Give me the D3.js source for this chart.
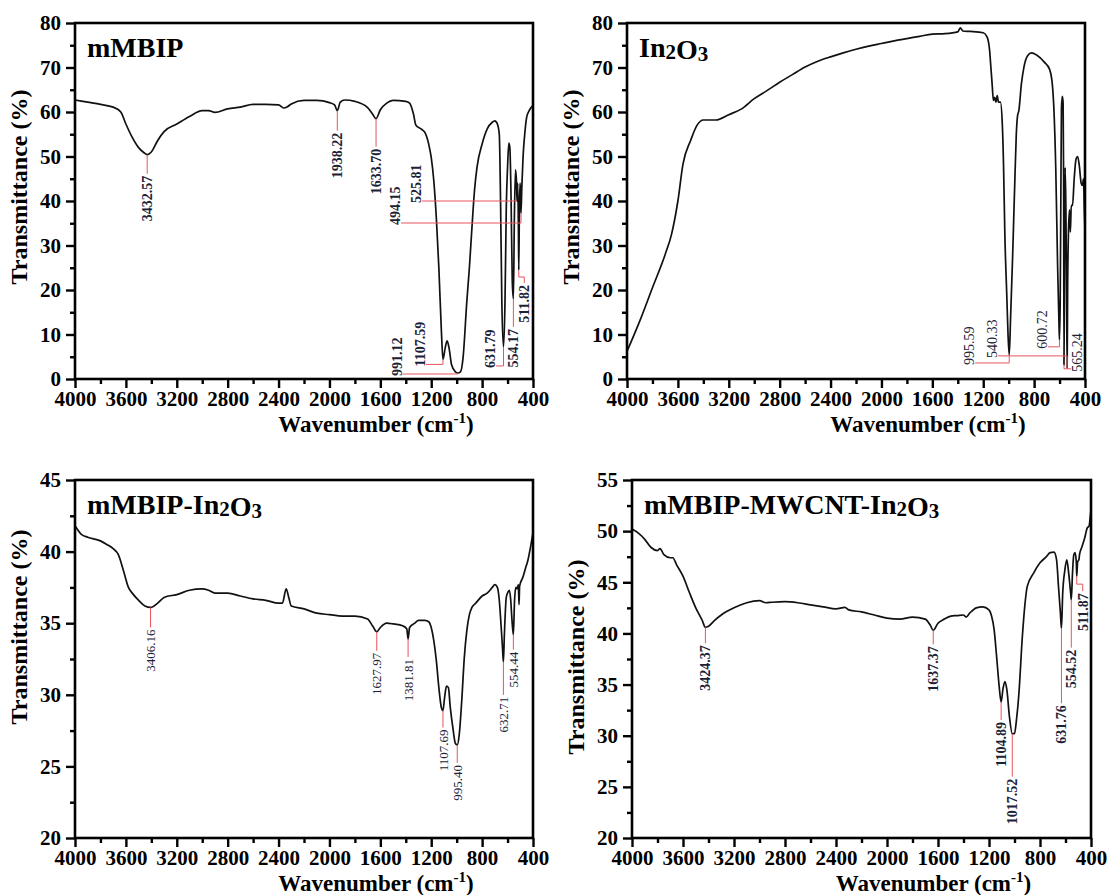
<!DOCTYPE html>
<html>
<head>
<meta charset="utf-8">
<script src="https://cdn.jsdelivr.net/npm/d3@7"></script>
<style>
  body { margin: 0; background: #fff; }
  svg { font-family: "Liberation Serif", "Times New Roman", serif; }
</style>
</head>
<body>
<svg width="1111" height="895"></svg>
<script>
const svg = d3.select('svg');

// x ticks shared by all four spectra
const xTicks = [4000, 3600, 3200, 2800, 2400, 2000, 1600, 1200, 800, 400];
const xMinor = [3800, 3400, 3000, 2600, 2200, 1800, 1400, 1000, 600];

// spectra: [wavenumber, transmittance %]
const mmbipSpectrum = [
  [4000,62.7],[3900,62.2],[3800,61.7],[3700,61.1],[3640,60],[3600,57.3],[3550,54.3],[3500,52],
  [3460,50.9],[3432.57,50.4],[3400,51],[3350,53.6],[3300,55.6],[3200,57.3],[3100,59],[3000,60.3],
  [2950,60.3],[2900,59.9],[2800,60.7],[2700,61.1],[2600,61.7],[2500,61.7],[2400,61.6],[2360,60.9],
  [2330,61.2],[2300,61.8],[2200,62.6],[2100,62.6],[2000,62.1],[1960,61.6],[1938.22,60.3],[1915,62.2],
  [1880,62.7],[1800,62.4],[1700,61],[1660,59.5],[1633.70,58.5],[1600,60.5],[1550,62],[1500,62.6],
  [1400,62.4],[1370,62],[1340,59.6],[1320,57],[1280,56.2],[1250,55.4],[1220,52.8],[1200,49.8],
  [1180,44.6],[1160,36.3],[1140,25],[1120,10.7],[1107.59,4.4],[1090,7],[1075,8.6],[1060,7],
  [1040,3.2],[1010,1.6],[991.12,1.35],[970,1.6],[950,4.7],[920,17.5],[900,25],[880,34],
  [860,42.3],[840,47.6],[800,52.8],[760,56.2],[720,57.7],[700,58],[680,57.3],[665,55],
  [655,40],[645,17.5],[631.79,7.2],[620,17.5],[610,38.5],[600,47.6],[590,53],[582,52],
  [572,40],[563,22],[554.17,18],[547,35],[538,47],[531,45],[525.81,40],[520,44],
  [515,35],[511.82,24.5],[507,38],[502,44],[498,42],[494.15,37.3],[488,43],[478,50],
  [465,55],[450,58.8],[430,60.3],[400,61.5]
];

const in2o3Spectrum = [
  [4000,6.2],[3900,13],[3800,20.5],[3700,28],[3650,32.5],[3600,40],[3560,48.3],[3500,53.6],
  [3450,57],[3400,58.2],[3300,58.2],[3200,59.4],[3100,60.7],[3000,63],[2900,64.8],[2800,66.7],
  [2700,68.4],[2600,70.1],[2500,71.4],[2400,72.4],[2300,73.3],[2200,74.1],[2100,74.8],[2000,75.4],
  [1900,76],[1800,76.5],[1700,77],[1600,77.5],[1500,77.6],[1400,78],[1380,78.9],[1360,78.2],
  [1300,78.1],[1200,77.8],[1170,76.9],[1150,73.9],[1140,70.1],[1130,66.3],[1120,62.6],[1110,63.3],
  [1100,62.2],[1090,63.7],[1080,62.2],[1065,62.2],[1050,57.3],[1040,47.6],[1030,32.5],[1015,19],
  [1005,10],[995.59,5.4],[985,13.7],[970,26.5],[960,36.3],[950,46],[940,55],[930,59.2],
  [920,60.3],[900,66.3],[880,70.1],[850,72.7],[820,73.3],[780,72.8],[720,71.2],[680,69.7],
  [660,67.1],[645,61],[630,47.6],[615,25],[605,13],[600.72,8.8],[595,17.5],[590,40],
  [585,61],[578,63.5],[572,62],[568,45],[565.24,3.2],[560,30],[556,47.5],[550,38],
  [545,20],[540.33,2.5],[536,22],[530,33],[522,38],[515,33],[508,39],[498,39],
  [485,45],[470,49.5],[458,50],[445,48],[430,44],[420,43.5],[412,45],[405,38],[400,33]
];

const mmbipIn2o3Spectrum = [
  [4000,41.8],[3950,41.2],[3900,41.0],[3800,40.75],[3750,40.5],[3700,40.2],[3660,39.8],[3620,38.7],
  [3580,37.5],[3550,37.1],[3500,36.6],[3450,36.2],[3406.16,36.1],[3350,36.4],[3300,36.8],[3200,37.0],
  [3100,37.3],[3000,37.4],[2950,37.3],[2900,37.1],[2800,37.1],[2700,36.9],[2600,36.7],[2500,36.6],
  [2400,36.4],[2370,36.4],[2340,37.4],[2320,36.8],[2300,36.2],[2200,36.0],[2100,35.7],[2000,35.6],
  [1900,35.5],[1800,35.5],[1700,35.3],[1660,34.8],[1627.97,34.4],[1600,34.7],[1550,35.0],[1500,34.95],
  [1420,34.8],[1392,34.6],[1381.81,33.9],[1370,34.7],[1330,35.0],[1300,35.2],[1250,35.2],[1220,35.1],
  [1200,34.7],[1180,33.8],[1160,32.4],[1140,30.5],[1120,29.1],[1107.69,28.9],[1095,29.8],[1080,30.6],
  [1065,30.5],[1050,29.1],[1030,27.7],[1010,26.6],[995.40,26.5],[980,27.2],[960,29.6],[940,32.6],
  [920,34.5],[900,35.6],[880,36.1],[850,36.4],[800,36.9],[760,37.1],[720,37.5],[700,37.7],
  [680,37.5],[665,36.6],[650,34.7],[640,33.3],[632.71,32.3],[625,34.2],[610,36.8],[595,37.2],
  [585,37.3],[575,36.6],[565,35.2],[554.44,34.2],[545,36.6],[535,37.5],[525,37.4],[515,37.7],
  [510,36.3],[505,37.6],[480,38.2],[460,38.8],[440,39.4],[420,40.3],[410,40.8],[400,41.3]
];

const mmbipMwcntSpectrum = [
  [4000,50.2],[3950,49.8],[3900,49.2],[3850,48.4],[3800,48.1],[3780,48.3],[3750,47.7],[3700,47.4],
  [3680,47.4],[3650,46.7],[3600,45.6],[3550,44.0],[3500,42.5],[3450,41.3],[3424.37,40.6],[3400,40.7],
  [3350,41.3],[3300,41.8],[3200,42.5],[3100,43.0],[3000,43.2],[2950,43.0],[2900,43.05],[2800,43.1],
  [2700,43.0],[2600,42.8],[2500,42.6],[2400,42.4],[2330,42.55],[2300,42.3],[2200,42.1],[2100,41.8],
  [2000,41.5],[1900,41.4],[1800,41.6],[1700,41.4],[1660,40.8],[1637.37,40.3],[1600,41],[1550,41.4],
  [1500,41.7],[1450,41.75],[1400,41.8],[1380,41.6],[1350,42],[1300,42.5],[1250,42.6],[1200,42.3],
  [1180,41.7],[1160,40.4],[1140,37.7],[1120,34.8],[1104.89,33.3],[1090,34.6],[1075,35.3],[1060,34.5],
  [1040,31.9],[1017.52,30.2],[1000,30.2],[985,31.5],[965,34.2],[940,39.4],[920,42.6],[900,44.6],
  [850,45.9],[800,46.9],[750,47.5],[720,47.9],[690,47.95],[670,47.2],[655,44.6],[640,42.0],
  [631.76,40.5],[622,43.9],[605,46.2],[590,47.2],[575,45.9],[560,44.0],[554.52,43.3],[545,45.9],
  [535,47.7],[525,47.9],[515,46.9],[511.87,45.6],[505,47.0],[495,47.2],[490,47.7],[470,48.5],
  [450,49.3],[430,50.3],[415,50.5],[405,51.5],[400,52.1]
];

// labelled peaks (wavenumbers)
const mmbipPeaks = [3432.57, 1938.22, 1633.70, 1107.59, 991.12, 631.79, 554.17, 525.81, 494.15, 511.82];
const in2o3Peaks = [995.59, 540.33, 600.72, 565.24];
const mmbipIn2o3Peaks = [3406.16, 1627.97, 1381.81, 1107.69, 995.40, 632.71, 554.44];
const mmbipMwcntPeaks = [3424.37, 1637.37, 1104.89, 1017.52, 631.76, 554.52, 511.87];

// how each peak label is placed (pixel offsets from the peak)
const mmbipLabelLayout = [
  {type: 'down', len: 19}, {type: 'down', len: 20}, {type: 'down', len: 28},
  {type: 'left', dx: -23, dy: 5}, {type: 'left', dx: -61, dy: 1}, {type: 'left', dx: -13.5, dy: 19},
  {type: 'down', len: 28}, {type: 'left', dx: -101, dy: 0}, {type: 'left', dx: -126, dy: 10},
  {type: 'step', drop: 7, dx: 5.5, drop2: 6}
];
const in2o3LabelLayout = [
  {type: 'left', dx: -40, dy: 8}, {type: 'left', dx: -75, dy: -12},
  {type: 'left', dx: -17.5, dy: 7}, {type: 'right', dx: 13, dy: 4}
];
const mmbipIn2o3LabelLayout = [
  {type: 'down', len: 20}, {type: 'down', len: 19}, {type: 'down', len: 18}, {type: 'down', len: 17},
  {type: 'down', len: 18}, {type: 'down', len: 33}, {type: 'down', len: 15}
];
const mmbipMwcntLabelLayout = [
  {type: 'down', len: 16}, {type: 'down', len: 14}, {type: 'down', len: 18}, {type: 'down', len: 43},
  {type: 'down', len: 75}, {type: 'down', len: 48}, {type: 'step', drop: 8, dx: 6, drop2: 7}
];

const tAt = (spectrum, wn) => spectrum.find(p => p[0] === wn)[1];

const spectrumPanel = (selection, props) => {
  const {
    left, top, width, height, yDomain, yTicks, yMinor,
    title, spectrum, peaks, layout, yLabelCenter, labelWeight, labelSize
  } = props;

  const g = selection.append('g')
      .attr('transform', `translate(${left}, ${top})`);

  const xScale = d3.scaleLinear().domain([4000, 400]).range([0, width]);
  const yScale = d3.scaleLinear().domain(yDomain).range([height, 0]);

  // minor ticks
  g.append('g')
      .attr('transform', `translate(0, ${height})`)
      .call(d3.axisBottom(xScale).tickValues(xMinor).tickSize(5).tickFormat(''));
  g.append('g')
      .call(d3.axisLeft(yScale).tickValues(yMinor).tickSize(5).tickFormat(''));

  // major ticks
  g.append('g')
      .attr('class', 'x-axis')
      .attr('transform', `translate(0, ${height})`)
      .call(d3.axisBottom(xScale).tickValues(xTicks).tickSize(9).tickPadding(3).tickFormat(d3.format('d')));
  g.append('g')
      .attr('class', 'y-axis')
      .call(d3.axisLeft(yScale).tickValues(yTicks).tickSize(9).tickPadding(5).tickFormat(d3.format('d')));

  g.selectAll('.domain').remove();
  g.selectAll('.tick line').attr('stroke', '#000').attr('stroke-width', 2.4);
  g.selectAll('.tick text')
      .attr('fill', '#000')
      .style('font-family', '"Liberation Serif", "Times New Roman", serif')
      .style('font-size', '21px')
      .style('font-weight', 'bold');

  // spectrum line
  const line = d3.line()
      .x(d => xScale(d[0]))
      .y(d => yScale(d[1]))
      .curve(d3.curveMonotoneX);
  g.append('path')
      .datum(spectrum)
      .attr('fill', 'none')
      .attr('stroke', '#111')
      .attr('stroke-width', 1.7)
      .attr('stroke-linejoin', 'round')
      .attr('d', line);

  // peak labels
  const ann = g.append('g');
  peaks.forEach((wn, i) => {
    const L = layout[i];
    const px = xScale(wn);
    const py = yScale(tAt(spectrum, wn));
    let pts, tx, ty, anchor;
    if (L.type === 'down') {
      pts = [[px, py], [px, py + L.len]];
      tx = px; ty = py + L.len + 2; anchor = 'end';
    } else if (L.type === 'left') {
      const ye = py + L.dy, lx = px + L.dx;
      pts = [[lx + 6, ye], [px, ye], [px, py]];
      tx = lx; ty = ye + 2; anchor = 'start';
    } else if (L.type === 'right') {
      const ye = py + L.dy, lx = px + L.dx;
      pts = [[px, py], [px, ye], [lx - 6, ye]];
      tx = lx; ty = ye + 3; anchor = 'start';
    } else {
      const y1 = py + L.drop, lx = px + L.dx, y2 = y1 + L.drop2;
      pts = [[px, py], [px, y1], [lx, y1], [lx, y2]];
      tx = lx; ty = y2 + 2; anchor = 'end';
    }
    ann.append('path')
        .attr('d', d3.line()(pts))
        .attr('fill', 'none')
        .attr('stroke', '#e8545c')
        .attr('stroke-width', 1);
    ann.append('text')
        .attr('transform', `translate(${tx}, ${ty}) rotate(-90)`)
        .attr('text-anchor', anchor)
        .attr('dy', '0.35em')
        .attr('fill', '#1b2236')
        .style('font-size', labelSize + 'px')
        .style('font-weight', labelWeight)
        .text(wn.toFixed(2));
  });

  // frame
  g.append('rect')
      .attr('width', width)
      .attr('height', height)
      .attr('fill', 'none')
      .attr('stroke', '#000')
      .attr('stroke-width', 2.6);

  // panel title with subscripts
  const titleText = g.append('text')
      .attr('x', 12)
      .attr('y', 34)
      .style('font-size', '28px')
      .style('font-weight', 'bold');
  title.forEach(part => {
    if (part.sub) {
      titleText.append('tspan').attr('dy', 2).style('font-size', '21px').text(part.t);
      titleText.append('tspan').attr('dy', -2).text('');
    } else {
      titleText.append('tspan').text(part.t);
    }
  });

  // axis titles
  g.append('text')
      .attr('transform', `translate(-48, ${yLabelCenter}) rotate(-90)`)
      .attr('text-anchor', 'middle')
      .style('font-size', '24px')
      .style('font-weight', 'bold')
      .text('Transmittance (%)');

  const xl = g.append('text')
      .attr('x', width / 2 + 72)
      .attr('y', height + 53)
      .attr('text-anchor', 'middle')
      .style('font-size', '23px')
      .style('font-weight', 'bold');
  xl.append('tspan').text('Wavenumber (cm');
  xl.append('tspan').attr('dy', -9).style('font-size', '15px').text('-1');
  xl.append('tspan').attr('dy', 9).text(')');
};

svg.call(spectrumPanel, {
  left: 75, top: 23, width: 458, height: 356,
  yDomain: [0, 80], yTicks: [0, 10, 20, 30, 40, 50, 60, 70, 80],
  yMinor: [5, 15, 25, 35, 45, 55, 65, 75],
  title: [{t: 'mMBIP'}],
  spectrum: mmbipSpectrum, peaks: mmbipPeaks, layout: mmbipLabelLayout,
  yLabelCenter: 164, labelWeight: 'bold', labelSize: 14
});

svg.call(spectrumPanel, {
  left: 627, top: 23, width: 458, height: 356,
  yDomain: [0, 80], yTicks: [0, 10, 20, 30, 40, 50, 60, 70, 80],
  yMinor: [5, 15, 25, 35, 45, 55, 65, 75],
  title: [{t: 'In'}, {t: '2', sub: true}, {t: 'O'}, {t: '3', sub: true}],
  spectrum: in2o3Spectrum, peaks: in2o3Peaks, layout: in2o3LabelLayout,
  yLabelCenter: 164, labelWeight: 'normal', labelSize: 14
});

svg.call(spectrumPanel, {
  left: 75, top: 480, width: 458, height: 358,
  yDomain: [20, 45], yTicks: [20, 25, 30, 35, 40, 45],
  yMinor: [22.5, 27.5, 32.5, 37.5, 42.5],
  title: [{t: 'mMBIP-In'}, {t: '2', sub: true}, {t: 'O'}, {t: '3', sub: true}],
  spectrum: mmbipIn2o3Spectrum, peaks: mmbipIn2o3Peaks, layout: mmbipIn2o3LabelLayout,
  yLabelCenter: 147, labelWeight: 'normal', labelSize: 13
});

svg.call(spectrumPanel, {
  left: 632, top: 480, width: 459, height: 358,
  yDomain: [20, 55], yTicks: [20, 25, 30, 35, 40, 45, 50, 55],
  yMinor: [22.5, 27.5, 32.5, 37.5, 42.5, 47.5, 52.5],
  title: [{t: 'mMBIP-MWCNT-In'}, {t: '2', sub: true}, {t: 'O'}, {t: '3', sub: true}],
  spectrum: mmbipMwcntSpectrum, peaks: mmbipMwcntPeaks, layout: mmbipMwcntLabelLayout,
  yLabelCenter: 177, labelWeight: 'bold', labelSize: 14
});
</script>
</body>
</html>
